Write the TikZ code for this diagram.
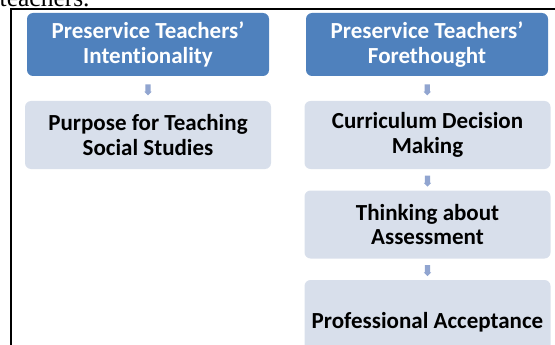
\documentclass[tikz,border=0pt]{standalone}
\usepackage{fontspec}
\setmainfont{Carlito}[Ligatures=NoCommon]
\newfontfamily\bodyserif{Liberation Serif}
\usetikzlibrary{shapes.arrows}

\definecolor{headblue}{RGB}{79,129,189}
\definecolor{stepfill}{RGB}{216,223,235}
\definecolor{arrowfill}{RGB}{145,165,208}

\tikzset{
  headbox/.style={rounded corners=6pt, fill=headblue, text=white,
    font=\fontsize{23}{25}\selectfont\bfseries, align=center,
    minimum width=242pt, minimum height=63pt, inner sep=0pt},
  stagebox/.style={rounded corners=6pt, fill=stepfill, text=black,
    font=\fontsize{23}{24.5}\selectfont\bfseries, align=center,
    minimum width=246pt, minimum height=68pt, inner sep=0pt},
  flowarrow/.style={single arrow, fill=arrowfill, draw=none,
    minimum height=11pt, inner sep=2.5pt, single arrow head extend=1pt,
    shape border rotate=270},
  framerule/.style={line width=2pt, black}
}

\begin{document}
\begin{tikzpicture}[x=1pt, y=-1pt]
  \useasboundingbox (0,0) rectangle (555,345);
  \clip (0,0) rectangle (555,345);

  % tail of the preceding sentence
  \node[anchor=base west, inner sep=0pt, font=\bodyserif\fontsize{25.5}{28}\selectfont]
    (caption) at (-0.5,7) {teachers.};

  % frame around the figure
  \draw[framerule] (555,9) -- (11,9) -- (11,346);

  % left column
  \node[headbox]  (intent)  at (148,44.5) {Preservice Teachers'\\Intentionality};
  \node[stagebox] (purpose) at (148,135)  {Purpose for Teaching\\Social Studies};

  % right column
  \node[headbox]  (fore)     at (427,44.5)   {Preservice Teachers'\\Forethought};
  \node[stagebox] (curric)   at (427.5,135)  {Curriculum Decision\\Making};
  \node[stagebox] (assess)   at (427.5,224.5){Thinking about\\Assessment};
  \node[stagebox, minimum height=84pt] (accept) at (427.5,322) {Professional Acceptance};

  % step arrows
  \path (intent) -- (purpose) node[midway, flowarrow] {};
  \path (fore)   -- (curric)  node[midway, flowarrow] {};
  \path (curric) -- (assess)  node[midway, flowarrow] {};
  \path (assess) -- (accept)  node[midway, flowarrow] {};
\end{tikzpicture}
\end{document}
